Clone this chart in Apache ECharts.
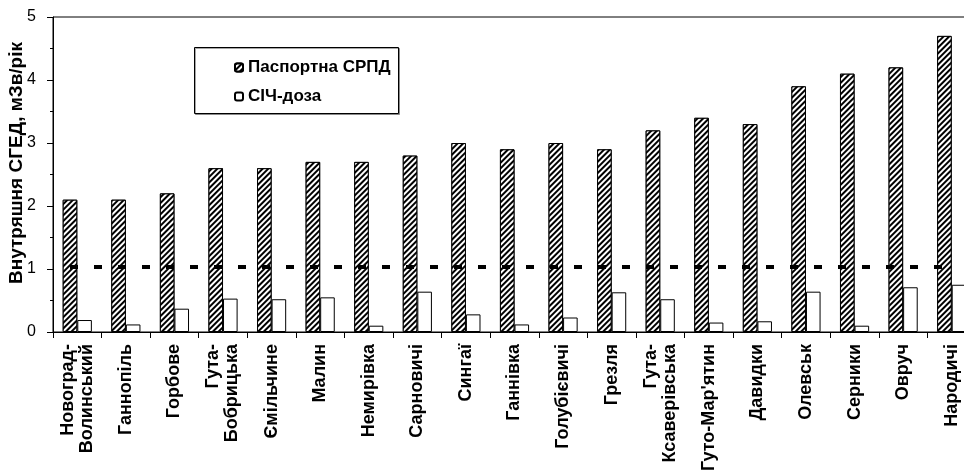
<!DOCTYPE html>
<html>
<head>
<meta charset="utf-8">
<script src="https://cdn.jsdelivr.net/npm/echarts@6/dist/echarts.min.js"></script>
<style>
html,body{margin:0;padding:0;background:#fff;}
#c{width:964px;height:472px;}
</style>
</head>
<body>
<div id="c"></div>
<script>
var categories = ["Новоград-\nВолинський","Ганнопіль","Горбове","Гута-\nБобрицька","Ємільчине","Малин","Немирівка","Сарновичі","Сингаї","Ганнівка","Голубієвичі","Грезля","Гута-\nКсаверівська","Гуто-Мар'ятин","Давидки","Олевськ","Серники","Овруч","Народичі"];
var passportDose = [2.1, 2.1, 2.2, 2.6, 2.6, 2.7, 2.7, 2.8, 3.0, 2.9, 3.0, 2.9, 3.2, 3.4, 3.3, 3.9, 4.1, 4.2, 4.7];
var wbcDose = [0.19, 0.12, 0.37, 0.53, 0.52, 0.55, 0.10, 0.64, 0.28, 0.12, 0.23, 0.63, 0.52, 0.15, 0.17, 0.64, 0.10, 0.71, 0.75];
var limitValue = 1.03;
var seriesNames = ["Паспортна СРПД", "СІЧ-доза"];
var yAxisName = "Внутряшня СГЕД, мЗв/рік";

var FONT = "'Liberation Sans', Arial, sans-serif";
var chart = echarts.init(document.getElementById('c'), null, {renderer: 'canvas'});
chart.setOption({
  animation: false,
  backgroundColor: '#fff',
  grid: {left: 53, top: 17, bottom: 140, right: -12, outerBoundsMode: 'none', containLabel: false,
         show: true, borderColor: '#000', borderWidth: 1, backgroundColor: 'transparent'},
  graphic: [{
    type: 'rect', left: 194, top: 47, z: 5,
    shape: {width: 204, height: 66},
    style: {fill: '#fff', stroke: '#000', lineWidth: 1, shadowColor: 'rgba(0,0,0,0.35)', shadowOffsetX: 1, shadowOffsetY: 1}
  }, {
    type: 'text', x: 17, y: 163, rotation: Math.PI / 2, z: 10,
    style: {text: yAxisName, fill: '#000', align: 'center', verticalAlign: 'middle',
            font: "bold 19px 'Liberation Sans', Arial, sans-serif"}
  }],
  legend: {
    orient: 'vertical', left: 229, top: 54, z: 10,
    itemWidth: 8, itemHeight: 8, itemGap: 12,
    textStyle: {fontFamily: FONT, fontWeight: 'bold', fontSize: 17, color: '#000'},
    data: seriesNames
  },
  xAxis: {
    type: 'category', data: categories,
    axisLine: {lineStyle: {color: '#000', width: 1}},
    axisTick: {show: true, interval: 0, length: 6, lineStyle: {color: '#000'}},
    axisLabel: {interval: 0, rotate: 90, margin: 12, fontFamily: FONT, fontWeight: 'bold', fontSize: 18, color: '#000', lineHeight: 19}
  },
  yAxis: {
    type: 'value', min: 0, max: 5, interval: 1,
    axisLine: {show: true, lineStyle: {color: '#000', width: 1}},
    axisTick: {show: true, length: 6, lineStyle: {color: '#000'}},
    minorTick: {show: true, splitNumber: 2, length: 3, lineStyle: {color: '#000'}},
    splitLine: {show: false},
    axisLabel: {margin: 17, fontFamily: FONT, fontSize: 16, color: '#000'}
  },
  series: [{
    name: seriesNames[0], type: 'bar', data: passportDose,
    barGap: '0%', barCategoryGap: '40%',
    itemStyle: {
      color: '#fff', borderColor: '#000', borderWidth: 1,
      decal: {symbol: 'rect', symbolSize: 1, color: '#000', backgroundColor: '#fff', dashArrayX: [1, 0], dashArrayY: [1.7, 1.3], rotation: -Math.PI / 4}
    },
    markLine: {
      silent: true, symbol: 'none', label: {show: false},
      lineStyle: {color: '#000', width: 4, type: [8, 16]},
      data: [[{coord: [0, limitValue]}, {coord: [categories.length - 1, limitValue]}]]
    }
  }, {
    name: seriesNames[1], type: 'bar', data: wbcDose,
    barGap: '0%', barCategoryGap: '40%',
    itemStyle: {color: '#fff', borderColor: '#000', borderWidth: 1}
  }]
});
</script>
</body>
</html>
